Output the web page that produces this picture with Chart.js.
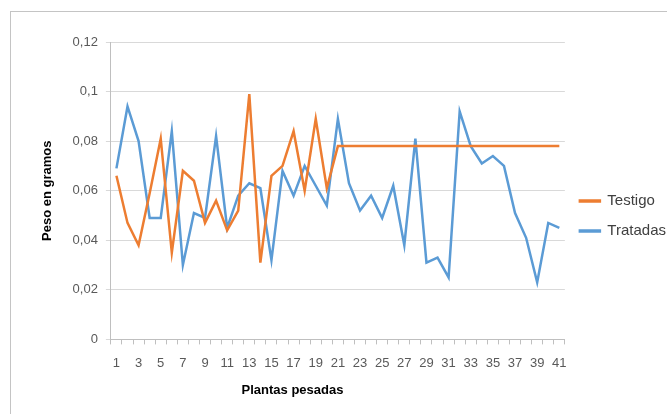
<!DOCTYPE html>
<html>
<head>
<meta charset="utf-8">
<script src="https://cdn.jsdelivr.net/npm/chart.js@4"></script>
<style>
  body { margin: 0; background: #fff; overflow: hidden; }
  #marco { position: absolute; left: 10px; top: 11px; width: 720px; height: 460px; border: 1px solid #c4c4c4; }
  #lienzo { position: absolute; left: 0; top: 0; }
</style>
</head>
<body>
<div id="marco"></div>
<canvas id="lienzo" width="667" height="414"></canvas>
<script>
// DATOS
const plantas = Array.from({ length: 41 }, (_, i) => String(i + 1));

const testigo = [
  0.066, 0.047, 0.038, 0.059, 0.081, 0.035, 0.068, 0.064, 0.047, 0.056,
  0.044, 0.052, 0.099, 0.031, 0.066, 0.070, 0.084, 0.060, 0.089, 0.061,
  0.078, 0.078, 0.078, 0.078, 0.078, 0.078, 0.078, 0.078, 0.078, 0.078,
  0.078, 0.078, 0.078, 0.078, 0.078, 0.078, 0.078, 0.078, 0.078, 0.078,
  0.078
];

const tratadas = [
  0.069, 0.094, 0.080, 0.049, 0.049, 0.084, 0.030, 0.051, 0.049, 0.082,
  0.045, 0.058, 0.063, 0.061, 0.032, 0.068, 0.058, 0.070, 0.062, 0.054,
  0.089, 0.063, 0.052, 0.058, 0.049, 0.062, 0.038, 0.081, 0.031, 0.033,
  0.025, 0.092, 0.078, 0.071, 0.074, 0.070, 0.051, 0.041, 0.023, 0.047,
  0.045
];

const FUENTE = "'Liberation Sans', 'DejaVu Sans', sans-serif";

// TITULO DEL EJE X (Excel no lo centra sobre el area)
const tituloX = {
  id: "tituloX",
  afterDraw(chart) {
    const ctx = chart.ctx;
    const area = chart.chartArea;
    ctx.save();
    ctx.font = "bold 13px " + FUENTE;
    ctx.fillStyle = "#000";
    ctx.textAlign = "center";
    ctx.textBaseline = "middle";
    ctx.fillText("Plantas pesadas", area.left + area.width * 0.4, area.bottom + 51);
    ctx.restore();
  }
};

function formatearEje(v) {
  return String(Math.round(v * 100) / 100).replace(".", ",");
}

new Chart(document.getElementById("lienzo"), {
  type: "line",
  data: {
    labels: plantas,
    datasets: [
      {
        label: "Testigo",
        data: testigo,
        borderColor: "#ED7D31",
        backgroundColor: "#ED7D31",
        borderWidth: 2.5,
        pointRadius: 0,
        tension: 0
      },
      {
        label: "Tratadas",
        data: tratadas,
        borderColor: "#5B9BD5",
        backgroundColor: "#5B9BD5",
        borderWidth: 2.5,
        pointRadius: 0,
        tension: 0
      }
    ]
  },
  options: {
    responsive: false,
    animation: false,
    devicePixelRatio: 1,
    layout: {
      padding: { left: 35, top: 42, right: -9, bottom: 32 }
    },
    scales: {
      x: {
        offset: true,
        grid: {
          offset: true,
          drawOnChartArea: false,
          tickLength: 5,
          color: "#bfbfbf"
        },
        border: { color: "#bfbfbf" },
        ticks: {
          autoSkip: false,
          maxRotation: 0,
          padding: 11,
          color: "#595959",
          font: { family: FUENTE, size: 13 },
          callback: (v, i) => (i % 2 === 0 ? plantas[i] : "")
        }
      },
      y: {
        min: 0,
        max: 0.12,
        grid: {
          color: "#d9d9d9",
          tickLength: 5
        },
        border: { color: "#bfbfbf" },
        ticks: {
          stepSize: 0.02,
          padding: 8,
          color: "#595959",
          font: { family: FUENTE, size: 13 },
          callback: formatearEje
        },
        title: {
          display: true,
          text: "Peso en gramos",
          color: "#000",
          font: { family: FUENTE, size: 13, weight: "bold" },
          padding: { top: 5, bottom: 9 }
        }
      }
    },
    plugins: {
      tooltip: { enabled: false },
      legend: {
        position: "right",
        title: {
          display: true,
          text: "",
          font: { size: 5, lineHeight: 1.2 },
          padding: 1
        },
        labels: {
          boxWidth: 20,
          boxHeight: 1,
          padding: 15,
          color: "#404040",
          font: { family: FUENTE, size: 15 }
        }
      }
    }
  },
  plugins: [tituloX]
});
</script>
</body>
</html>
